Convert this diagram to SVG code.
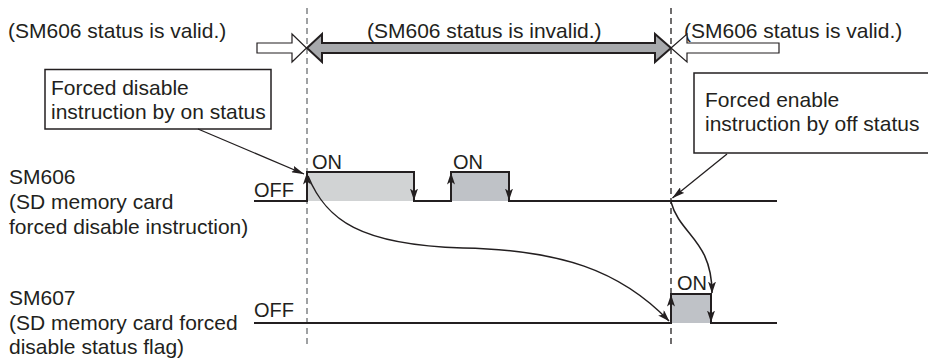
<svg xmlns="http://www.w3.org/2000/svg" width="928" height="358" viewBox="0 0 928 358">
<defs>
<marker id="ah" viewBox="0 0 12 8" refX="11.5" refY="4" markerWidth="12" markerHeight="8" markerUnits="userSpaceOnUse" orient="auto">
<path d="M0,0 L12,4 L0,8 L3,4 Z" fill="#231f20"/>
</marker>
<marker id="ah2" viewBox="0 0 13 7" refX="12.5" refY="3.5" markerWidth="13" markerHeight="7" markerUnits="userSpaceOnUse" orient="auto">
<path d="M0,0 L13,3.5 L0,7 L2,3.5 Z" fill="#231f20"/>
</marker>
<style>
text{font-family:"Liberation Sans",Arial,sans-serif;fill:#231f20;}
.lbl{font-size:21px;}
.lv{font-size:20px;}
.sig{fill:none;stroke:#231f20;stroke-width:2;}
.box{fill:#fff;stroke:#231f20;stroke-width:1.5;}
.ptr{fill:none;stroke:#231f20;stroke-width:1.3;marker-end:url(#ah2);}
.curve{fill:none;stroke:#231f20;stroke-width:1.5;marker-end:url(#ah);}
.edge{stroke:#231f20;stroke-width:2;marker-end:url(#ah);}
</style>
</defs>

<g id="guides">
<line x1="307" y1="8" x2="307" y2="347" stroke="#808285" stroke-width="1.5" stroke-dasharray="6,4"/>
<line x1="671" y1="8" x2="671" y2="347" stroke="#231f20" stroke-width="1.3" stroke-dasharray="6,4"/>
</g>

<g id="status-labels">
<text class="lbl" x="8" y="38">(SM606 status is valid.)</text>
<text class="lbl" x="367" y="38">(SM606 status is invalid.)</text>
<text class="lbl" x="684" y="38">(SM606 status is valid.)</text>
</g>

<g id="status-arrows">
<polygon points="257,43 292,43 292,34 306.5,48 292,62 292,53 257,53" fill="#fff" stroke="#231f20" stroke-width="1.2"/>
<polygon points="307,48 322,34 322,43 655,43 655,34 671,48 655,62 655,53 322,53 322,62" fill="#a7a9ac" stroke="#231f20" stroke-width="2"/>
<polygon points="671,48 687,34 687,43 779,43 779,53 687,53 687,62" fill="#fff" stroke="#231f20" stroke-width="1.2"/>
</g>

<g id="note-disable">
<rect class="box" x="45" y="69.5" width="226" height="59.5"/>
<text class="lbl" x="51" y="95">Forced disable</text>
<text class="lbl" x="51" y="119">instruction by on status</text>
</g>

<g id="note-enable">
<rect class="box" x="694" y="73" width="240" height="80"/>
<text class="lbl" x="705" y="107">Forced enable</text>
<text class="lbl" x="705" y="131">instruction by off status</text>
</g>

<g id="sm606-label">
<text class="lbl" x="9" y="184">SM606</text>
<text class="lbl" x="9" y="209">(SD memory card</text>
<text class="lbl" x="9" y="234">forced disable instruction)</text>
</g>

<g id="sm607-label">
<text class="lbl" x="9" y="304.5">SM607</text>
<text class="lbl" x="9" y="329.5">(SD memory card forced</text>
<text class="lbl" x="9" y="354">disable status flag)</text>
</g>

<g id="sm606-signal">
<rect x="307" y="172" width="107" height="29" fill="#d1d3d4"/>
<rect x="451" y="172" width="58" height="29" fill="#bfc2c7"/>
<path class="sig" d="M254,201 H307 V172 H414 V201 H451 V172 H509 V201 H777"/>
<text class="lv" x="254" y="197">OFF</text>
<text class="lv" x="312" y="169">ON</text>
<text class="lv" x="453" y="169">ON</text>
</g>

<g id="sm607-signal">
<rect x="671" y="294" width="40" height="29" fill="#bfc2c7"/>
<path class="sig" d="M254,323 H671 V294 H711 V323 H777"/>
<text class="lv" x="254" y="317">OFF</text>
<text class="lv" x="677" y="290">ON</text>
</g>

<g id="connectors">
<line class="edge" x1="307" y1="195" x2="307" y2="173"/>
<line class="edge" x1="414" y1="178" x2="414" y2="200"/>
<line class="edge" x1="451" y1="195" x2="451" y2="173"/>
<line class="edge" x1="509" y1="178" x2="509" y2="200"/>
<line class="edge" x1="671" y1="317" x2="671" y2="295"/>
<line class="edge" x1="711" y1="300" x2="711" y2="322"/>
<path class="ptr" d="M198,129 L304,174"/>
<path class="ptr" d="M727,154 L672.5,198"/>
<path class="curve" d="M308,176 C326,220 360,245 463,248 C560,250 620,270 669,321"/>
<path class="curve" d="M671,202 C680,235 712,240 712,293"/>
</g>
</svg>
